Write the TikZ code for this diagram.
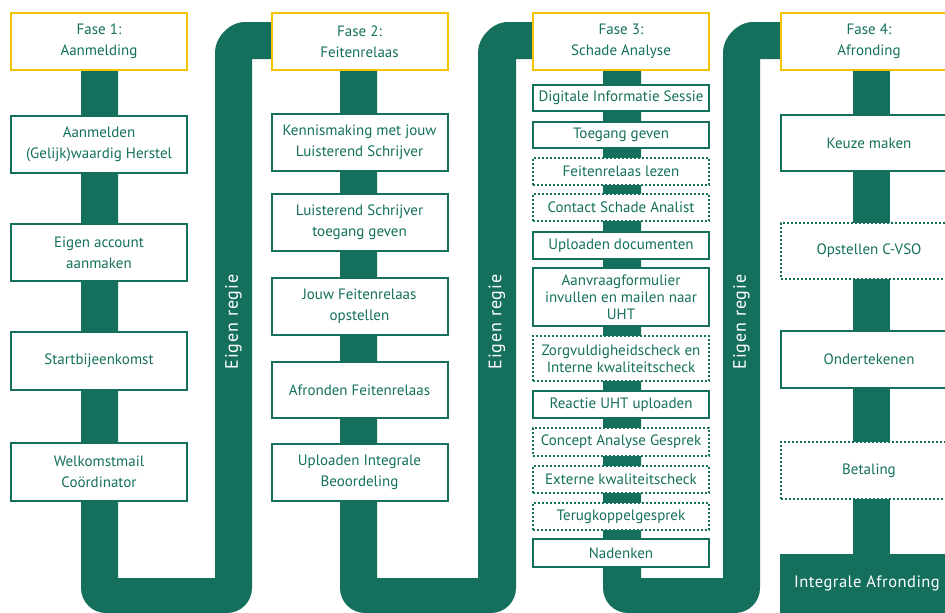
\documentclass[tikz,border=0pt]{standalone}
\usepackage{fontspec}
\setmainfont{PT Sans}
\newfontfamily\widefont[LetterSpace=5]{PT Sans}
\newfontfamily\midfont[LetterSpace=3]{PT Sans}
\definecolor{dg}{RGB}{20,112,92}
\definecolor{yl}{RGB}{245,196,0}
\begin{document}
\begin{tikzpicture}[x=1pt,y=-1pt,
  box/.style={draw=dg, line width=2pt, fill=white, text=dg, align=center, inner sep=0pt,
    minimum width=176pt, font=\fontsize{15}{21}\selectfont},
  tight/.style={font=\fontsize{15}{17}\selectfont},
  hdr/.style={box, draw=yl, minimum height=57pt},
  dbox/.style={box, dash pattern=on 2pt off 2pt},
  regie/.style={text=white, rotate=90, font=\widefont\fontsize{18}{21}\selectfont}
]
\useasboundingbox (0,0) rectangle (945,613);
\clip (0,0) rectangle (945,613);
% green tracks
\fill[dg] (81,71) -- (81,588) .. controls (81,601.8) and (92.2,613) .. (106,613) -- (227,613)
  .. controls (240.8,613) and (252,601.8) .. (252,588) -- (252,59) -- (285,59) -- (285,22) -- (245,22)
  .. controls (228.4,22) and (215,38.6) .. (215,52) -- (215,578) -- (118,578) -- (118,71) -- cycle;
\fill[dg] (340,71) -- (340,588) .. controls (340,601.8) and (351.2,613) .. (365,613) -- (491,613)
  .. controls (504.8,613) and (516,601.8) .. (516,588) -- (516,59) -- (545,59) -- (545,22) -- (508,22)
  .. controls (491.4,22) and (478,38.6) .. (478,52) -- (478,578) -- (377,578) -- (377,71) -- cycle;
\fill[dg] (603,71) -- (603,588) .. controls (603,601.8) and (614.2,613) .. (628,613) -- (735,613)
  .. controls (748.8,613) and (760,601.8) .. (760,588) -- (760,59) -- (790,59) -- (790,22) -- (753,22)
  .. controls (736.4,22) and (723,38.6) .. (723,52) -- (723,578) -- (641,578) -- (641,71) -- cycle;
\fill[dg] (853,71) rectangle (890,556);
\fill[dg] (780,554) rectangle (960,620);
% Eigen regie labels
\node[regie] (r1) at (233.5,322) {Eigen regie};
\node[regie] (r2) at (497,322) {Eigen regie};
\node[regie] (r3) at (741.5,322) {Eigen regie};
% column 1
\node[hdr] (h1) at (99,41.5) {Fase 1:\\Aanmelding};
\node[box, minimum height=57pt] (a1) at (99,144.5) {Aanmelden\\(Gelijk)waardig Herstel};
\node[box, minimum height=57pt] (a2) at (99,252.5) {Eigen account\\aanmaken};
\node[box, minimum height=58pt] (a3) at (99,361) {Startbijeenkomst};
\node[box, minimum height=58pt] (a4) at (99,472) {Welkomstmail\\Coördinator};
% column 2
\node[hdr] (h2) at (359.5,41.5) {Fase 2:\\Feitenrelaas};
\node[box, minimum height=57pt] (b1) at (359.5,142.5) {Kennismaking met jouw\\Luisterend Schrijver};
\node[box, minimum height=57pt] (b2) at (359.5,222.5) {Luisterend Schrijver\\toegang geven};
\node[box, minimum height=57pt] (b3) at (359.5,306.5) {Jouw Feitenrelaas\\opstellen};
\node[box, minimum height=56pt] (b4) at (359.5,390) {Afronden Feitenrelaas};
\node[box, minimum height=57pt] (b5) at (359.5,472.5) {Uploaden Integrale\\Beoordeling};
% column 3
\node[hdr] (h3) at (621,41.5) {Fase 3:\\Schade Analyse};
\node[box, minimum height=26pt] (c1) at (621,98) {Digitale Informatie Sessie};
\node[box, minimum height=26pt] (c2) at (621,135) {Toegang geven};
\node[dbox, minimum height=27pt] (c3) at (621,171.5) {Feitenrelaas lezen};
\node[dbox, minimum height=27pt] (c4) at (621,207.5) {Contact Schade Analist};
\node[box, minimum height=27pt] (c5) at (621,245.5) {Uploaden documenten};
\node[box, tight, minimum height=58pt] (c6) at (621,297) {Aanvraagformulier\\invullen en mailen naar\\UHT};
\node[dbox, tight, minimum height=45pt] (c7) at (621,358.5) {Zorgvuldigheidscheck en\\Interne kwaliteitscheck};
\node[box, minimum height=27pt] (c8) at (621,404.5) {Reactie UHT uploaden};
\node[dbox, minimum height=28pt] (c9) at (621,442) {Concept Analyse Gesprek};
\node[dbox, minimum height=27pt] (c10) at (621,479.5) {Externe kwaliteitscheck};
\node[dbox, minimum height=27pt] (c11) at (621,516.5) {Terugkoppelgesprek};
\node[box, minimum height=28pt] (c12) at (621,553) {Nadenken};
% column 4
\node[hdr] (h4) at (869,41.5) {Fase 4:\\Afronding};
\node[box, minimum height=56pt] (d1) at (869,143) {Keuze maken};
\node[dbox, minimum height=56pt] (d2) at (869,251) {Opstellen C-VSO};
\node[box, minimum height=57pt] (d3) at (869,359.5) {Ondertekenen};
\node[dbox, minimum height=57pt] (d4) at (869,470.5) {Betaling};
\node[text=white, font=\midfont\fontsize{16.5}{19}\selectfont] (d5) at (867,583) {Integrale Afronding};
\end{tikzpicture}
\end{document}
